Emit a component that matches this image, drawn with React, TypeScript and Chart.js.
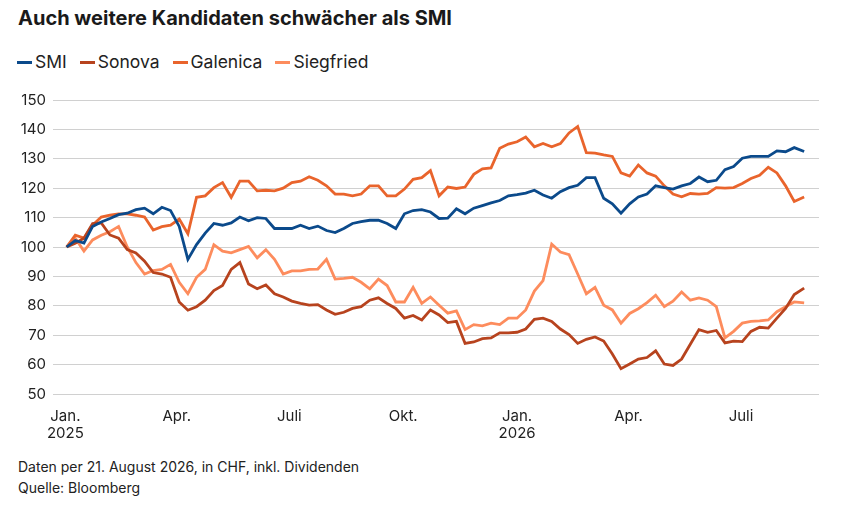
import React, { useEffect, useRef } from 'react';
import { Chart, registerables } from 'chart.js';

Chart.register(...registerables);

// Tage seit 1. Jan. 2025; wöchentliche Werte ab 2. Jan., letzter Wert am 21. Aug. 2026
const startDay = 1;
const stepDays = 7;
const endDay = 597;

const seriesNames = ['SMI', 'Sonova', 'Galenica', 'Siegfried'];
const seriesColors = ['#0b4a8b', '#b7431e', '#e9642c', '#fd8c5d'];

const smi = [
  100, 102.2, 101.3, 107, 108.5, 109.7, 111, 111.5, 112.7, 113.2, 111.3, 113.5, 112.4, 107, 95.8, 100.8,
  104.7, 108, 107.4, 108.2, 110.2, 108.9, 110, 109.7, 106.3, 106.3, 106.3, 107.4, 106.3, 107.1, 105.6, 104.9,
  106.3, 108, 108.6, 109.1, 109.1, 108, 106.3, 111.3, 112.4, 112.7, 111.9, 109.7, 109.8, 113, 111.3, 113.2,
  114.1, 115, 115.8, 117.4, 117.8, 118.3, 119.3, 117.7, 116.6, 118.8, 120.2, 121, 123.6, 123.6, 116.6, 114.7,
  111.5, 114.7, 117, 118, 120.8, 120.2, 119.7, 120.8, 121.6, 123.8, 122.2, 122.7, 126.3, 127.4, 130.2, 130.8,
  130.8, 130.8, 132.7, 132.4, 133.8, 132.5,
];

const sonova = [
  100, 101.3, 103, 108, 108.2, 104.1, 103, 99.1, 98, 95.2, 91.3, 90.8, 89.7, 81.3, 78.5, 79.7,
  81.9, 85.2, 86.9, 92.4, 94.7, 87.4, 85.8, 87.1, 84.1, 83, 81.6, 80.8, 80.2, 80.4, 78.6, 77.1,
  77.8, 79.1, 79.7, 81.9, 82.7, 80.8, 79.1, 75.8, 76.7, 75.2, 78.6, 76.9, 74.3, 74.7, 67.2, 67.7,
  68.8, 69.1, 70.8, 70.8, 71, 72.1, 75.4, 75.8, 74.7, 72.1, 70.2, 67.2, 68.6, 69.4, 68, 63.6,
  58.6, 60.2, 61.9, 62.4, 64.7, 60.2, 59.7, 61.9, 66.9, 71.9, 71, 71.6, 67.4, 68, 67.8, 71.3,
  72.7, 72.4, 75.8, 79.1, 83.8, 86,
];

const galenica = [
  100, 104, 103, 107.4, 110.2, 110.8, 111.3, 111.3, 110.8, 110.2, 105.8, 106.9, 107.4, 109.5, 104.5, 116.9,
  117.4, 120.2, 121.9, 116.9, 122.4, 122.4, 119.1, 119.3, 119.1, 120, 121.9, 122.4, 123.9, 122.7, 120.8, 118,
  118, 117.4, 118, 120.8, 120.8, 117.4, 117.4, 119.7, 123, 123.6, 126, 117.4, 120.4, 119.9, 120.4, 124.7,
  126.6, 126.9, 133.6, 135, 135.8, 137.4, 134.1, 135.2, 134.1, 135.2, 138.8, 141, 132.1, 131.9, 131.3, 130.8,
  125.2, 124.1, 127.9, 125.2, 124.1, 120.8, 118, 117.1, 118.2, 118, 118.2, 120.2, 120, 120.2, 121.6, 123.3,
  124.4, 127.1, 125.2, 120.8, 115.5, 117,
];

const siegfried = [
  100, 103, 98.6, 102.4, 104, 105.2, 107, 100, 94.7, 90.8, 92, 92.4, 94.1, 88, 84.1, 89.7,
  92.4, 100.8, 98.6, 98, 99.1, 100.2, 96.3, 99.1, 95.8, 90.8, 91.9, 91.9, 92.4, 92.5, 95.8, 89.1,
  89.3, 89.7, 88, 85.8, 89.1, 86.9, 81.3, 81.3, 86.3, 80.8, 83, 80.2, 77.5, 78.3, 71.9, 73.6,
  73.2, 74.1, 73.6, 75.8, 75.8, 78.6, 85, 88.6, 101, 98.3, 97.4, 90.8, 84.1, 86.3, 80.2, 78.6,
  74.1, 77.4, 79, 81.1, 83.6, 79.7, 81.6, 84.7, 81.9, 82.7, 81.9, 79.7, 69.1, 71.3, 74.1, 74.7,
  74.9, 75.2, 78, 79.7, 81.3, 81,
];

const tickDays = [0, 90, 181, 273, 365, 455, 546];
const tickLabels: (string | string[])[] = [['Jan.', '2025'], 'Apr.', 'Juli', 'Okt.', ['Jan.', '2026'], 'Apr.', 'Juli'];

const font = 'Inter, "Noto Sans", sans-serif';

const toPoints = (values: number[]) =>
  values.map((y, i) => ({ x: i === values.length - 1 ? endDay : startDay + i * stepDays, y }));

const StockChart: React.FC = () => {
  const canvasRef = useRef<HTMLCanvasElement>(null);

  useEffect(() => {
    if (!canvasRef.current) return;
    const all = [smi, sonova, galenica, siegfried];

    const chart = new Chart(canvasRef.current, {
      type: 'line',
      data: {
        datasets: all.map((values, i) => ({
          label: seriesNames[i],
          data: toPoints(values),
          borderColor: seriesColors[i],
          borderWidth: 2.8,
          pointRadius: 0,
          tension: 0,
          fill: false,
        })),
      },
      options: {
        animation: false,
        responsive: true,
        maintainAspectRatio: false,
        layout: { padding: { top: 10, right: 42, left: 0, bottom: 0 } },
        plugins: { legend: { display: false }, tooltip: { enabled: false } },
        scales: {
          x: {
            type: 'linear',
            min: -10,
            max: 609,
            grid: { display: false },
            border: { display: false },
            afterBuildTicks: (axis: any) => {
              axis.ticks = tickDays.map((value) => ({ value }));
            },
            afterFit: (axis: any) => {
              axis.height = 50;
            },
            ticks: {
              autoSkip: false,
              maxRotation: 0,
              padding: 6,
              color: '#222',
              font: { family: font, size: 15, lineHeight: 1.15 },
              callback: (value: any) => {
                const idx = tickDays.indexOf(Number(value));
                return idx >= 0 ? tickLabels[idx] : '';
              },
            },
          },
          y: {
            min: 50,
            max: 150,
            grid: { color: '#d0d0d0', lineWidth: 1, drawTicks: false },
            border: { display: false },
            afterFit: (axis: any) => {
              axis.width = 53;
            },
            ticks: {
              stepSize: 10,
              padding: 7,
              color: '#222',
              font: { family: font, size: 15 },
            },
          },
        },
      },
    });

    return () => chart.destroy();
  }, []);

  return (
    <div style={{ position: 'absolute', left: 0, top: 84, width: 861, height: 360 }}>
      <canvas ref={canvasRef} />
    </div>
  );
};

export default function App() {
  return (
    <div
      style={{
        position: 'fixed',
        left: 0,
        top: 0,
        width: 861,
        height: 508,
        background: '#fff',
        fontFamily: font,
        color: '#222',
      }}
    >
      <div
        style={{
          position: 'absolute',
          left: 18,
          top: 6,
          fontSize: 20,
          fontWeight: 700,
          lineHeight: '24px',
          color: '#1a1a1a',
        }}
      >
        Auch weitere Kandidaten schwächer als SMI
      </div>

      <div
        style={{
          position: 'absolute',
          left: 17,
          top: 52,
          display: 'flex',
          alignItems: 'center',
          fontSize: 17.5,
          lineHeight: '20px',
        }}
      >
        {seriesNames.map((name, i) => (
          <div key={name} style={{ display: 'flex', alignItems: 'center', marginRight: 13 }}>
            <span
              style={{
                display: 'inline-block',
                width: 15,
                height: 3,
                background: seriesColors[i],
                marginRight: 3,
              }}
            />
            <span>{name}</span>
          </div>
        ))}
      </div>

      <StockChart />

      <div
        style={{
          position: 'absolute',
          left: 18,
          top: 456,
          fontSize: 14,
          lineHeight: '21px',
          color: '#222',
        }}
      >
        <div>Daten per 21. August 2026, in CHF, inkl. Dividenden</div>
        <div>Quelle: Bloomberg</div>
      </div>
    </div>
  );
}
